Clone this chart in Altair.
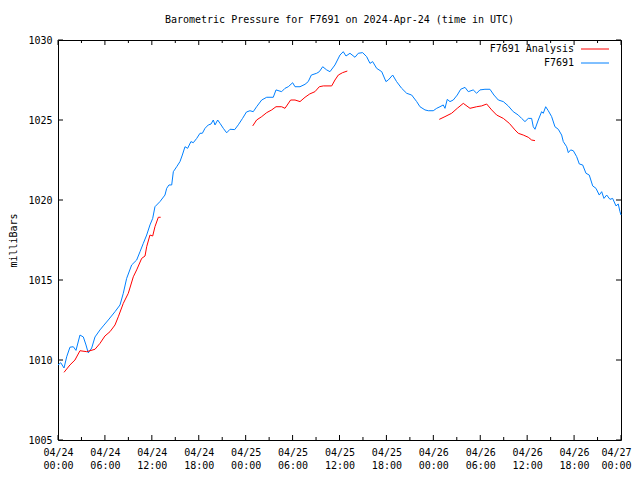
import json
import altair as alt
import pandas as pd

# ---- data (hours since 2024-04-24 00:00 UTC, pressure in mb) ----
obs_hours = [0, 0.35, 0.77, 1.11, 1.53, 1.96, 2.3, 2.81, 3.24, 3.58, 3.87, 4.31, 4.73,
             5.37, 5.79, 6.43, 7.29, 7.93, 8.35, 8.78, 9.42, 10.06, 10.49, 10.91, 11.34,
             11.76, 12.11, 12.4, 13.04, 13.68, 13.9, 14.19, 14.54, 14.75, 15.18, 15.6,
             15.9, 16.24, 16.58, 17.0, 17.3, 17.74, 18.16, 18.46, 18.8, 19.22, 19.57,
             19.86, 20.08, 20.42, 20.72, 21.14, 21.57, 22.0, 22.6, 23.06, 23.6, 24.1,
             24.55, 24.97, 25.4, 26.05, 26.69, 27.53, 27.88, 28.6, 29.03, 29.45, 30.01,
             30.31, 30.95, 31.59, 32.0, 32.4, 33.08, 33.42, 33.85, 34.36, 34.78, 35.42,
             36.06, 36.48, 36.83, 37.34, 37.98, 38.4, 38.96, 39.47, 39.9, 40.24, 40.75,
             41.4, 41.94, 42.24, 42.8, 43.3, 43.95, 44.59, 45.23, 45.87, 46.29, 46.93,
             47.35, 47.99, 48.43, 48.85, 49.27, 49.49, 49.78, 50.13, 50.55, 51.06, 51.5,
             52.05, 52.47, 53.1, 53.54, 53.96, 54.6, 55.24, 55.75, 56.31, 56.95, 57.58,
             58.22, 58.86, 59.29, 59.72, 60.14, 60.57, 60.78, 61.0, 61.42, 61.85, 62.06,
             62.37, 62.7, 63.13, 63.55, 63.98, 64.41, 64.62, 65.05, 65.26, 65.56, 65.9,
             66.33, 66.67, 67.1, 67.52, 67.94, 68.38, 68.8, 69.22, 69.53, 69.82, 70.17,
             70.59, 70.93, 71.36, 71.65, 71.87, 72.0]
obs_values = [1009.69, 1009.83, 1009.5, 1010.2, 1010.8, 1010.83, 1010.6, 1011.56, 1011.44,
              1010.94, 1010.44, 1010.75, 1011.44, 1011.88, 1012.13, 1012.5, 1013.02,
              1013.44, 1014.17, 1015.1, 1015.94, 1016.25, 1016.77, 1017.29, 1017.81,
              1018.44, 1018.85, 1019.58, 1019.9, 1020.31, 1020.73, 1020.94, 1020.94,
              1021.77, 1022.08, 1022.4, 1022.81, 1023.33, 1023.23, 1023.65, 1023.58,
              1023.85, 1024.17, 1024.17, 1024.48, 1024.69, 1024.75, 1025.0, 1024.69,
              1025.0, 1024.79, 1024.48, 1024.2, 1024.42, 1024.4, 1024.7, 1025.1, 1025.5,
              1025.58, 1025.52, 1025.83, 1026.25, 1026.42, 1026.42, 1026.88, 1026.77,
              1026.98, 1027.08, 1027.33, 1027.08, 1027.08, 1027.23, 1027.4, 1027.81,
              1027.92, 1028.02, 1028.33, 1028.13, 1028.02, 1028.44, 1029.06, 1029.27,
              1029.0, 1029.17, 1028.92, 1029.17, 1029.21, 1028.96, 1028.54, 1028.65,
              1028.23, 1028.02, 1027.4, 1027.5, 1027.81, 1027.4, 1026.98, 1026.67,
              1026.56, 1026.15, 1025.83, 1025.63, 1025.58, 1025.58, 1025.73, 1025.83,
              1025.94, 1025.73, 1026.29, 1026.15, 1026.25, 1026.56, 1026.92, 1027.04,
              1026.77, 1026.88, 1026.67, 1026.88, 1026.92, 1026.92, 1026.56, 1026.25,
              1026.15, 1025.88, 1025.52, 1025.31, 1025.1, 1024.9, 1025.1, 1025.1, 1024.58,
              1024.42, 1025.0, 1025.52, 1025.42, 1025.83, 1025.58, 1025.21, 1024.58,
              1024.42, 1024.06, 1023.65, 1023.33, 1022.96, 1023.13, 1023.08, 1022.71,
              1022.25, 1022.19, 1021.67, 1021.56, 1020.88, 1020.73, 1020.31, 1020.52,
              1020.1, 1020.31, 1020.04, 1020.1, 1019.63, 1019.75, 1019.27, 1019.06]

ana_hours = [0.77, 1.53, 2.17, 2.81, 3.67, 4.73, 5.37, 6.0, 6.65, 7.29, 7.71, 8.35, 8.99,
             9.63, 10.06, 10.7, 11.13, 11.34, 11.76, 12.11, 12.4, 12.83, 13.13,
             None,
             24.9, 25.4, 26.05, 26.69, 27.33, 27.88, 28.6, 29.03, 29.75, 30.31, 30.95,
             31.59, 32.2, 32.86, 33.42, 33.93, 35.0, 35.42, 35.85, 36.4, 37.0,
             None,
             48.76, 49.49, 50.34, 51.06, 51.83, 52.69, 53.54, 54.18, 54.82, 55.46, 56.1,
             56.95, 57.72, 58.44, 58.86, 59.5, 60.14, 60.57, 61.0]
ana_values = [1009.23, 1009.69, 1010.0, 1010.58, 1010.52, 1010.67, 1011.04, 1011.5,
              1011.77, 1012.19, 1012.7, 1013.54, 1014.17, 1015.2, 1015.63, 1016.35,
              1016.5, 1017.08, 1017.81, 1017.75, 1018.33, 1018.92, 1018.92,
              None,
              1024.63, 1025.0, 1025.21, 1025.46, 1025.63, 1025.83, 1025.83, 1025.73,
              1026.25, 1026.25, 1026.15, 1026.42, 1026.63, 1026.77, 1027.08, 1027.13,
              1027.13, 1027.5, 1027.81, 1027.96, 1028.06,
              None,
              1025.04, 1025.21, 1025.42, 1025.73, 1026.04, 1025.73, 1025.83, 1025.88,
              1026.0, 1025.63, 1025.31, 1025.1, 1024.79, 1024.38, 1024.17, 1024.06,
              1023.92, 1023.75, 1023.71]

series_names = ["F7691 Analysis", "F7691"]
series_colors = ["#ff0000", "#0080ff"]

major_ticks = [0, 6, 12, 18, 24, 30, 36, 42, 48, 54, 60, 66, 72]
minor_ticks = [3, 9, 15, 21, 27, 33, 39, 45, 51, 57, 63, 69]
tick_dates = ["04/24", "04/24", "04/24", "04/24", "04/25", "04/25", "04/25", "04/25",
              "04/26", "04/26", "04/26", "04/26", "04/27"]
tick_times = ["00:00", "06:00", "12:00", "18:00", "00:00", "06:00", "12:00", "18:00",
              "00:00", "06:00", "12:00", "18:00", "00:00"]
y_ticks = [1005, 1010, 1015, 1020, 1025, 1030]

title_text = "Barometric Pressure for F7691 on 2024-Apr-24 (time in UTC)"
y_title = "milliBars"

# ---- build ----
FONT = "DejaVu Sans Mono"
W, H = 563, 400

obs_df = pd.DataFrame({"h": obs_hours, "p": obs_values, "seg": 0})
seg_ids, s = [], 0
for v in ana_hours:
    if v is None:
        s += 1
    seg_ids.append(s)
ana_df = pd.DataFrame({"h": ana_hours, "p": ana_values, "seg": seg_ids}).dropna()

xscale = alt.Scale(domain=[0, 72], nice=False, zero=False)
yscale = alt.Scale(domain=[1005, 1030], nice=False, zero=False)

label_expr = ("[" + json.dumps(tick_dates) + "[round(datum.value/6)], "
              + json.dumps(tick_times) + "[round(datum.value/6)]]")

xaxis = alt.Axis(values=major_ticks, labelExpr=label_expr, title=None, ticks=False,
                 domain=False, grid=False, labelFont=FONT, labelFontSize=10,
                 labelColor="black", labelPadding=7, labelLineHeight=13,
                 labelBaseline="top", labelAngle=0, labelFlush=False,
                 labelOverlap=False, labelAlign="center",
                 labelOffset={"condition": {"test": "datum.value >= 72", "value": -5},
                              "value": 0})
yaxis = alt.Axis(values=y_ticks, format="d", title=y_title, ticks=False, domain=False,
                 grid=False, labelFont=FONT, labelFontSize=10, labelColor="black",
                 labelPadding=6, labelFlush=False, labelOverlap=False,
                 titleFont=FONT, titleFontSize=10, titleFontWeight="normal",
                 titleColor="black", titleAngle=270, titleX=-42, titleY=H / 2,
                 titleAlign="center", titleBaseline="alphabetic")

blue = alt.Chart(obs_df).mark_line(color=series_colors[1], strokeWidth=1,
                                   interpolate="linear").encode(
    x=alt.X("h:Q", scale=xscale, axis=xaxis),
    y=alt.Y("p:Q", scale=yscale, axis=yaxis),
    detail="seg:N",
)
red = alt.Chart(ana_df).mark_line(color=series_colors[0], strokeWidth=1).encode(
    x=alt.X("h:Q", scale=xscale),
    y=alt.Y("p:Q", scale=yscale),
    detail="seg:N",
)

maj_df = pd.DataFrame({"t": major_ticks})
min_df = pd.DataFrame({"t": minor_ticks})
yt_df = pd.DataFrame({"v": y_ticks})


def xticks(df, length):
    bottom = alt.Chart(df).mark_rule(color="black", strokeWidth=1).encode(
        x=alt.X("t:Q", scale=xscale), y=alt.value(H), y2=alt.value(H - length))
    top = alt.Chart(df).mark_rule(color="black", strokeWidth=1).encode(
        x=alt.X("t:Q", scale=xscale), y=alt.value(0), y2=alt.value(length))
    return [bottom, top]


ytick_l = alt.Chart(yt_df).mark_rule(color="black", strokeWidth=1).encode(
    y=alt.Y("v:Q", scale=yscale), x=alt.value(0), x2=alt.value(5))
ytick_r = alt.Chart(yt_df).mark_rule(color="black", strokeWidth=1).encode(
    y=alt.Y("v:Q", scale=yscale), x=alt.value(W), x2=alt.value(W - 5))

legend_layers = []
for i, (name, col) in enumerate(zip(series_names, series_colors)):
    ldf = pd.DataFrame({"name": [name]})
    legend_layers.append(
        alt.Chart(ldf).mark_text(align="right", baseline="middle", font=FONT,
                                 fontSize=10, color="black").encode(
            text="name:N", x=alt.value(W - 47), y=alt.value(9 + 14 * i)))
    legend_layers.append(
        alt.Chart(ldf).mark_rule(color=col, strokeWidth=1).encode(
            x=alt.value(W - 40), x2=alt.value(W - 12), y=alt.value(9 + 14 * i)))

chart = alt.layer(
    blue, red, *xticks(maj_df, 5), *xticks(min_df, 3), ytick_l, ytick_r, *legend_layers
).properties(
    width=W, height=H,
    title=alt.TitleParams(title_text, font=FONT, fontSize=10, fontWeight="normal",
                          color="black", anchor="middle", offset=10),
    autosize=alt.AutoSizeParams(type="none"),
    padding={"left": 50, "top": 32, "right": 11, "bottom": 32},
    background="white",
).configure_view(stroke="black", strokeWidth=1)

chart.save("out.html", embed_options={"renderer": "svg", "actions": False})
